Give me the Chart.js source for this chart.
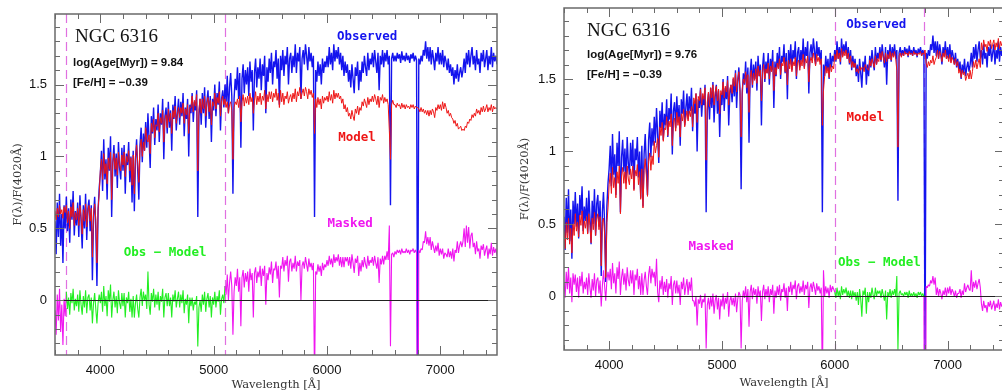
<!DOCTYPE html>
<html lang="en">
<head>
<meta charset="UTF-8">
<title>NGC 6316 - spectral fits</title>
<script src="https://cdn.jsdelivr.net/npm/chart.js"></script>
<style>
  html, body { margin: 0; padding: 0; background: #fff; overflow: hidden; }
  body { width: 1002px; height: 392px; position: relative; }
  .panel { position: absolute; top: 0; }
  #panelOld { left: 0; }
  #panelYoung { left: 509px; }
</style>
</head>
<body>
<div class="panel" id="panelOld"><canvas id="fitOld" width="505" height="392"></canvas></div>
<div class="panel" id="panelYoung"><canvas id="fitYoung" width="500" height="392"></canvas></div>

<script>
// wavelength grid (Å): one sample every 10 Å from 3600 to 7500
const waveStart = 3600;
const waveStep = 10;
const waveTicks = [4000, 5000, 6000, 7000];
const fluxTicks = [0, 0.5, 1, 1.5];

// observed spectrum, F(λ)/F(4020Å)
const observed = [
  0.55, 0.32, 0.68, 0.44, 0.74, 0.38, 0.60, 0.26, 0.66, 0.50,
  0.72, 0.48, 0.64, 0.40, 0.70, 0.56, 0.76, 0.45, 0.62, 0.52,
  0.68, 0.44, 0.73, 0.55, 0.36, 0.66, 0.50, 0.74, 0.42, 0.64,
  0.70, 0.48, 0.66, 0.14, 0.58, 0.72, 0.50, 0.10, 0.62, 0.78,
  0.88, 1.04, 0.76, 1.12, 0.84, 0.98, 0.70, 1.06, 0.90, 1.14,
  0.58, 0.96, 1.08, 0.86, 1.02, 0.78, 1.10, 0.92, 0.84, 1.06,
  0.90, 1.08, 0.74, 1.02, 0.94, 1.10, 0.82, 1.00, 0.68, 1.04,
  0.62, 0.98, 1.12, 0.90, 0.70, 1.08, 1.20, 0.96, 1.16, 1.04,
  1.24, 1.06, 1.30, 1.12, 0.92, 1.28, 1.16, 1.34, 1.08, 1.26,
  1.18, 1.36, 1.10, 1.30, 1.22, 1.40, 0.98, 1.28, 1.34, 1.16,
  1.38, 1.20, 1.32, 1.04, 1.36, 1.26, 1.42, 1.18, 1.30, 1.40,
  1.22, 1.38, 1.28, 1.44, 1.14, 1.34, 1.26, 1.40, 1.00, 1.36,
  1.30, 1.44, 1.24, 1.38, 1.32, 1.46, 0.58, 1.28, 1.40, 1.22,
  1.44, 1.30, 1.48, 1.20, 1.38, 1.46, 1.26, 1.42, 1.10, 1.40,
  1.32, 1.50, 1.28, 1.44, 1.36, 1.52, 1.18, 1.40, 1.46, 1.34,
  1.50, 1.38, 1.56, 1.30, 1.48, 1.58, 1.42, 0.74, 1.40, 1.54,
  1.46, 1.62, 1.40, 1.58, 1.06, 1.54, 1.64, 1.44, 1.60, 1.50,
  1.62, 1.42, 1.66, 1.52, 1.60, 1.18, 1.58, 1.68, 1.48, 1.62,
  1.54, 1.68, 1.46, 1.64, 1.56, 1.70, 1.30, 1.62, 1.52, 1.68,
  1.58, 1.72, 1.50, 1.66, 1.62, 1.74, 1.54, 1.68, 1.36, 1.70,
  1.60, 1.74, 1.56, 1.70, 1.64, 1.76, 1.50, 1.68, 1.72, 1.58,
  1.70, 1.62, 1.78, 1.58, 1.72, 1.66, 1.76, 1.40, 1.68, 1.74,
  1.64, 1.78, 1.70, 1.60, 1.76, 1.66, 1.72, 1.62, 1.70, 0.58,
  1.60, 1.52, 1.66, 1.56, 1.64, 1.50, 1.68, 1.58, 1.66, 1.62,
  1.70, 1.62, 1.76, 1.64, 1.72, 1.60, 1.78, 1.66, 1.74, 1.68,
  1.76, 1.64, 1.72, 1.60, 1.70, 1.56, 1.66, 1.58, 1.64, 1.52,
  1.60, 1.48, 1.64, 1.54, 1.44, 1.62, 1.56, 1.66, 1.46, 1.60,
  1.52, 1.66, 1.58, 1.70, 1.62, 1.56, 1.72, 1.60, 1.68, 1.64,
  1.72, 1.62, 1.74, 1.66, 1.58, 1.72, 1.46, 1.70, 1.64, 1.74,
  1.62, 1.72, 1.66, 1.74, 1.64, 1.70, 0.66, 1.68, 1.72, 1.66,
  1.70, 1.66, 1.72, 1.68, 1.71, 1.65, 1.73, 1.67, 1.70, 1.66,
  1.72, 1.67, 1.70, 1.65, 1.71, 1.68, 1.72, 1.66, 1.70, 1.67,
  -0.50, 1.68, 1.64, 1.70, 1.66, 1.74, 1.70, 1.80, 1.68, 1.76,
  1.66, 1.76, 1.64, 1.74, 1.68, 1.60, 1.72, 1.66, 1.76, 1.64,
  1.72, 1.64, 1.74, 1.62, 1.70, 1.66, 1.60, 1.68, 1.58, 1.64,
  1.56, 1.62, 1.50, 1.60, 1.54, 1.64, 1.52, 1.58, 1.62, 1.55,
  1.60, 1.68, 1.58, 1.72, 1.64, 1.74, 1.62, 1.70, 1.76, 1.64,
  1.70, 1.60, 1.74, 1.64, 1.68, 1.58, 1.72, 1.66, 1.74, 1.62,
  1.68, 1.74, 1.60, 1.70, 1.64, 1.76, 1.62, 1.72, 1.66, 1.70,
  1.64
];

// best model, log(Age[Myr]) = 9.84, fitted over 3700-5100 Å
const modelOld = [
  0.62, 0.56, 0.64, 0.58, 0.66, 0.60, 0.63, 0.57, 0.65, 0.61,
  0.66, 0.54, 0.62, 0.50, 0.65, 0.58, 0.68, 0.52, 0.61, 0.56,
  0.64, 0.52, 0.66, 0.58, 0.46, 0.63, 0.55, 0.67, 0.51, 0.62,
  0.66, 0.55, 0.64, 0.30, 0.60, 0.67, 0.56, 0.26, 0.64, 0.74,
  0.90, 0.98, 0.84, 1.02, 0.88, 0.95, 0.81, 0.99, 0.91, 1.03,
  0.70, 0.96, 1.02, 0.91, 0.99, 0.87, 1.03, 0.94, 0.90, 1.01,
  0.94, 1.03, 0.86, 1.00, 0.96, 1.04, 0.90, 0.99, 0.80, 1.01,
  0.74, 1.00, 1.08, 0.96, 0.82, 1.06, 1.12, 1.00, 1.10, 1.04,
  1.20, 1.12, 1.10, 1.15, 1.02, 1.23, 1.17, 1.26, 1.13, 1.22,
  1.21, 1.30, 1.17, 1.27, 1.23, 1.32, 1.10, 1.26, 1.29, 1.20,
  1.33, 1.24, 1.30, 1.16, 1.32, 1.27, 1.35, 1.23, 1.29, 1.34,
  1.27, 1.34, 1.30, 1.37, 1.23, 1.33, 1.29, 1.36, 1.16, 1.34,
  1.34, 1.42, 1.31, 1.39, 1.35, 1.43, 0.90, 1.33, 1.40, 1.30,
  1.40, 1.33, 1.42, 1.28, 1.37, 1.41, 1.31, 1.39, 1.22, 1.38,
  1.35, 1.44, 1.33, 1.41, 1.37, 1.45, 1.28, 1.39, 1.42, 1.36,
  1.40, 1.34, 1.38, 1.30, 1.36, 1.38, 1.32, 0.98, 1.34, 1.38,
  1.36, 1.40, 1.34, 1.42, 1.24, 1.38, 1.43, 1.35, 1.41, 1.37,
  1.42, 1.36, 1.44, 1.38, 1.41, 1.30, 1.39, 1.45, 1.36, 1.42,
  1.38, 1.44, 1.36, 1.42, 1.39, 1.46, 1.33, 1.43, 1.38, 1.45,
  1.40, 1.45, 1.38, 1.44, 1.41, 1.47, 1.39, 1.44, 1.34, 1.46,
  1.38, 1.44, 1.36, 1.42, 1.40, 1.45, 1.37, 1.41, 1.43, 1.38,
  1.44, 1.40, 1.47, 1.38, 1.45, 1.42, 1.48, 1.40, 1.44, 1.47,
  1.42, 1.48, 1.45, 1.40, 1.47, 1.43, 1.46, 1.41, 1.44, 1.16,
  1.40, 1.34, 1.41, 1.36, 1.40, 1.33, 1.42, 1.37, 1.41, 1.39,
  1.42, 1.38, 1.45, 1.39, 1.43, 1.37, 1.46, 1.40, 1.44, 1.41,
  1.44, 1.40, 1.42, 1.37, 1.40, 1.33, 1.36, 1.31, 1.34, 1.28,
  1.30, 1.26, 1.32, 1.28, 1.25, 1.33, 1.30, 1.35, 1.29, 1.34,
  1.32, 1.38, 1.35, 1.40, 1.37, 1.34, 1.41, 1.36, 1.40, 1.38,
  1.42, 1.38, 1.43, 1.40, 1.36, 1.42, 1.34, 1.41, 1.39, 1.43,
  1.37, 1.41, 1.38, 1.40, 1.36, 1.18, 0.98, 1.36, 1.39, 1.36,
  1.36, 1.34, 1.37, 1.35, 1.36, 1.33, 1.37, 1.34, 1.36, 1.33,
  1.36, 1.34, 1.35, 1.33, 1.36, 1.34, 1.36, 1.33, 1.35, 1.34,
  1.34, 1.33, 1.31, 1.34, 1.31, 1.33, 1.30, 1.32, 1.29, 1.32,
  1.28, 1.32, 1.29, 1.33, 1.31, 1.27, 1.34, 1.32, 1.36, 1.33,
  1.36, 1.32, 1.38, 1.33, 1.37, 1.34, 1.30, 1.32, 1.28, 1.30,
  1.27, 1.26, 1.23, 1.25, 1.21, 1.23, 1.19, 1.20, 1.21, 1.18,
  1.19, 1.18, 1.21, 1.20, 1.24, 1.23, 1.26, 1.25, 1.29, 1.27,
  1.30, 1.28, 1.33, 1.30, 1.32, 1.29, 1.34, 1.31, 1.35, 1.31,
  1.33, 1.36, 1.31, 1.34, 1.32, 1.36, 1.31, 1.35, 1.33, 1.34,
  1.33
];

// best model, log(Age[Myr]) = 9.76, fitted over 6000-6790 Å
const modelYoung = [
  0.45, 0.33, 0.51, 0.39, 0.54, 0.36, 0.47, 0.30, 0.50, 0.42,
  0.57, 0.45, 0.51, 0.41, 0.56, 0.49, 0.59, 0.43, 0.52, 0.47,
  0.55, 0.43, 0.57, 0.49, 0.37, 0.54, 0.46, 0.58, 0.42, 0.53,
  0.57, 0.46, 0.55, 0.21, 0.51, 0.54, 0.43, 0.13, 0.51, 0.61,
  0.77, 0.85, 0.71, 0.89, 0.75, 0.82, 0.68, 0.86, 0.78, 0.90,
  0.57, 0.83, 0.89, 0.78, 0.86, 0.74, 0.90, 0.81, 0.77, 0.88,
  0.81, 0.90, 0.73, 0.87, 0.83, 0.91, 0.77, 0.86, 0.67, 0.88,
  0.61, 0.87, 0.95, 0.83, 0.69, 0.93, 0.99, 0.87, 0.97, 0.91,
  1.07, 0.99, 1.04, 1.09, 0.96, 1.17, 1.11, 1.20, 1.07, 1.16,
  1.15, 1.24, 1.11, 1.21, 1.17, 1.26, 1.04, 1.20, 1.23, 1.14,
  1.27, 1.18, 1.24, 1.10, 1.26, 1.21, 1.29, 1.17, 1.23, 1.28,
  1.21, 1.28, 1.24, 1.31, 1.17, 1.37, 1.33, 1.40, 1.20, 1.38,
  1.35, 1.43, 1.32, 1.40, 1.36, 1.44, 0.94, 1.34, 1.41, 1.31,
  1.44, 1.37, 1.46, 1.32, 1.41, 1.45, 1.35, 1.43, 1.26, 1.42,
  1.39, 1.48, 1.37, 1.45, 1.41, 1.49, 1.32, 1.43, 1.46, 1.40,
  1.51, 1.45, 1.54, 1.41, 1.50, 1.55, 1.41, 1.10, 1.43, 1.50,
  1.47, 1.55, 1.44, 1.53, 1.27, 1.51, 1.56, 1.46, 1.54, 1.49,
  1.57, 1.47, 1.59, 1.52, 1.56, 1.35, 1.55, 1.60, 1.50, 1.57,
  1.54, 1.61, 1.50, 1.59, 1.55, 1.62, 1.42, 1.58, 1.53, 1.61,
  1.57, 1.64, 1.53, 1.61, 1.59, 1.65, 1.55, 1.62, 1.46, 1.63,
  1.57, 1.64, 1.55, 1.62, 1.59, 1.65, 1.52, 1.61, 1.63, 1.56,
  1.63, 1.59, 1.67, 1.57, 1.64, 1.61, 1.66, 1.48, 1.62, 1.65,
  1.61, 1.68, 1.64, 1.59, 1.67, 1.62, 1.65, 1.60, 1.64, 1.18,
  1.42, 1.52, 1.59, 1.54, 1.58, 1.51, 1.60, 1.55, 1.59, 1.57,
  1.67, 1.63, 1.70, 1.64, 1.68, 1.62, 1.71, 1.65, 1.69, 1.66,
  1.70, 1.64, 1.68, 1.61, 1.66, 1.58, 1.62, 1.58, 1.61, 1.55,
  1.57, 1.54, 1.59, 1.56, 1.58, 1.58, 1.55, 1.60, 1.58, 1.57,
  1.56, 1.63, 1.59, 1.64, 1.61, 1.58, 1.66, 1.60, 1.64, 1.62,
  1.68, 1.63, 1.69, 1.65, 1.61, 1.68, 1.62, 1.67, 1.64, 1.69,
  1.63, 1.68, 1.65, 1.69, 1.64, 1.56, 1.03, 1.66, 1.68, 1.65,
  1.68, 1.66, 1.69, 1.67, 1.68, 1.66, 1.69, 1.67, 1.68, 1.66,
  1.69, 1.67, 1.68, 1.66, 1.68, 1.67, 1.69, 1.66, 1.68, 1.67,
  1.70, 1.61, 1.58, 1.62, 1.59, 1.63, 1.61, 1.66, 1.60, 1.63,
  1.65, 1.70, 1.64, 1.69, 1.66, 1.62, 1.68, 1.65, 1.70, 1.64,
  1.66, 1.62, 1.67, 1.61, 1.65, 1.63, 1.60, 1.64, 1.59, 1.62,
  1.54, 1.57, 1.51, 1.56, 1.53, 1.55, 1.49, 1.52, 1.54, 1.50,
  1.56, 1.50, 1.55, 1.62, 1.58, 1.63, 1.57, 1.61, 1.64, 1.58,
  1.75, 1.70, 1.77, 1.72, 1.74, 1.69, 1.76, 1.73, 1.77, 1.71,
  1.74, 1.77, 1.70, 1.75, 1.72, 1.78, 1.71, 1.76, 1.73, 1.75,
  1.72
];

const BLUE = '#1414ee', RED = '#ee1616', GREEN = '#22ee22', MAGENTA = '#f016f0';

const panels = [
  {
    canvas: 'fitOld', model: modelOld, fit: [3700, 5100], age: 'log(Age[Myr]) = 9.84',
    yMin: -0.38, top: 14, right: 8, xHeight: 37, yTitlePad: 11, xTitlePad: 0,
    at: { name: [3777, 1.83], age: [3759, 1.65], feh: [3759, 1.51],
          obs: [6354, 1.83], model: [6265, 1.13], diff: [4571, 0.33], masked: [6204, 0.53] }
  },
  {
    canvas: 'fitYoung', model: modelYoung, fit: [6000, 6790], age: 'log(Age[Myr]) = 9.76',
    yMin: -0.37, top: 8, right: 5, xHeight: 42, yTitlePad: 9, xTitlePad: 2,
    at: { name: [3804, 1.83], age: [3804, 1.67], feh: [3804, 1.53],
          obs: [6368, 1.876], model: [6271, 1.23], diff: [6395, 0.23], masked: [4904, 0.34] }
  }
];

const toPoints = arr => arr.map((v, i) => ({ x: waveStart + waveStep * i, y: v }));

// frame, inward ticks, zero line, fit-window markers and labels
function decor(p) {
  return {
    id: 'decor',
    beforeDatasetsDraw(chart) {
      const { ctx, chartArea: a, scales: { x } } = chart;
      ctx.save();
      ctx.strokeStyle = '#e070e0';
      ctx.lineWidth = 1.2;
      ctx.setLineDash([9, 5]);
      p.fit.forEach(w => {
        const px = Math.round(x.getPixelForValue(w)) + 0.5;
        ctx.beginPath();
        ctx.moveTo(px, a.top);
        ctx.lineTo(px, a.bottom);
        ctx.stroke();
      });
      ctx.restore();
    },
    afterDatasetsDraw(chart) {
      const { ctx, chartArea: a, scales: { x, y } } = chart;
      ctx.save();

      const y0 = Math.round(y.getPixelForValue(0)) + 0.5;
      ctx.strokeStyle = '#222';
      ctx.lineWidth = 1;
      ctx.beginPath();
      ctx.moveTo(a.left, y0);
      ctx.lineTo(a.right, y0);
      ctx.stroke();

      ctx.strokeStyle = '#6a6a6a';
      ctx.lineWidth = 1.5;
      ctx.strokeRect(a.left, a.top, a.width, a.height);
      ctx.lineWidth = 1;
      ctx.beginPath();
      for (let w = 3600; w <= 7500; w += 200) {
        const len = w % 1000 === 0 ? 9 : 5;
        const px = Math.round(x.getPixelForValue(w)) + 0.5;
        ctx.moveTo(px, a.bottom); ctx.lineTo(px, a.bottom - len);
        ctx.moveTo(px, a.top); ctx.lineTo(px, a.top + len);
      }
      for (let k = -3; k <= 19; k++) {
        const len = k % 5 === 0 ? 9 : 5;
        const py = Math.round(y.getPixelForValue(k / 10)) + 0.5;
        ctx.moveTo(a.left, py); ctx.lineTo(a.left + len, py);
        ctx.moveTo(a.right, py); ctx.lineTo(a.right - len, py);
      }
      ctx.stroke();

      const put = (str, at, font, color, align) => {
        ctx.font = font;
        ctx.fillStyle = color;
        ctx.textAlign = align;
        ctx.textBaseline = 'middle';
        ctx.fillText(str, x.getPixelForValue(at[0]), y.getPixelForValue(at[1]));
      };
      const mono = 'bold 12.5px "DejaVu Sans Mono"';
      put('NGC 6316', p.at.name, '19px "Liberation Serif"', '#111', 'left');
      put(p.age, p.at.age, 'bold 11.5px "Liberation Sans"', '#111', 'left');
      put('[Fe/H] = −0.39', p.at.feh, 'bold 11.5px "Liberation Sans"', '#111', 'left');
      put('Observed', p.at.obs, mono, BLUE, 'center');
      put('Model', p.at.model, mono, RED, 'center');
      put('Obs − Model', p.at.diff, mono, GREEN, 'center');
      put('Masked', p.at.masked, mono, MAGENTA, 'center');
      ctx.restore();
    }
  };
}

function makePanel(p) {
  // Obs - Model, green where the fit was made, magenta where masked
  const resid = observed.map((f, i) => +(f - p.model[i]).toFixed(3));
  const inFit = c => c.p0.parsed.x >= p.fit[0] && c.p1.parsed.x <= p.fit[1];

  new Chart(document.getElementById(p.canvas), {
    type: 'line',
    data: {
      datasets: [
        { label: 'Obs − Model', data: toPoints(resid), borderColor: MAGENTA, borderWidth: 1.1,
          segment: { borderColor: c => inFit(c) ? GREEN : MAGENTA }, order: 0 },
        { label: 'Model', data: toPoints(p.model), borderColor: RED, borderWidth: 1, order: 1 },
        { label: 'Observed', data: toPoints(observed), borderColor: BLUE, borderWidth: 1.4, order: 2 }
      ]
    },
    options: {
      responsive: false,
      animation: false,
      devicePixelRatio: 1,
      elements: {
        point: { radius: 0 },
        line: { tension: 0, fill: false, borderJoinStyle: 'bevel' }
      },
      layout: { padding: { top: p.top, right: p.right, bottom: 0, left: 0 } },
      plugins: { legend: { display: false }, tooltip: { enabled: false } },
      scales: {
        x: {
          type: 'linear', min: 3600, max: 7500,
          grid: { display: false, drawTicks: false },
          border: { display: false },
          afterBuildTicks: s => { s.ticks = waveTicks.map(v => ({ value: v })); },
          ticks: {
            autoSkip: false, maxRotation: 0, padding: 8,
            color: '#111', font: { family: 'Liberation Sans', size: 13 },
            callback: v => String(v)
          },
          title: {
            display: true, text: 'Wavelength [Å]', color: '#333',
            font: { family: 'DejaVu Serif', size: 11.5 },
            padding: { top: 0, bottom: p.xTitlePad }
          },
          afterFit: s => { s.height = p.xHeight; s.paddingLeft = 0; s.paddingRight = 0; }
        },
        y: {
          type: 'linear', min: p.yMin, max: 1.99,
          grid: { display: false, drawTicks: false },
          border: { display: false },
          afterBuildTicks: s => { s.ticks = fluxTicks.map(v => ({ value: v })); },
          ticks: {
            padding: 8,
            color: '#111', font: { family: 'Liberation Sans', size: 13 },
            callback: v => String(v)
          },
          title: {
            display: true, text: 'F(λ)/F(4020Å)', color: '#333',
            font: { family: 'DejaVu Serif', size: 11.5 },
            padding: { top: p.yTitlePad, bottom: 0 }
          },
          afterFit: s => { s.width = 55; s.paddingTop = 0; s.paddingBottom = 0; }
        }
      }
    },
    plugins: [decor(p)]
  });
}

panels.forEach(makePanel);
</script>
</body>
</html>
